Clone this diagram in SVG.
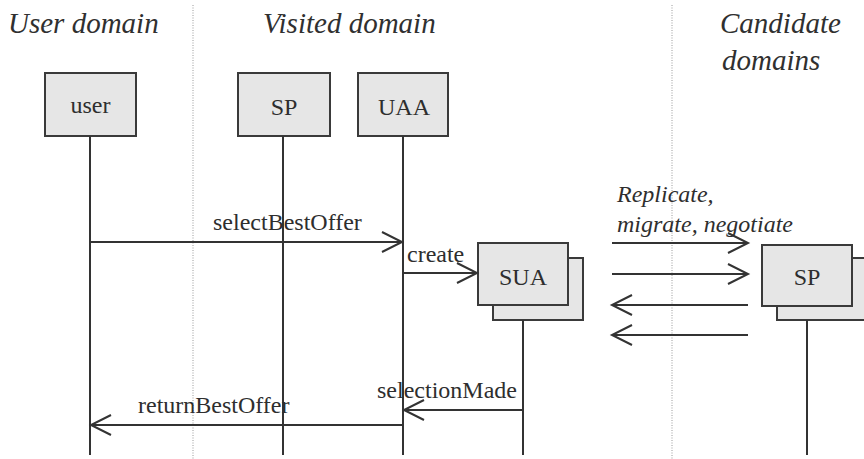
<svg xmlns="http://www.w3.org/2000/svg" width="864" height="459" viewBox="0 0 864 459">
  <style>
    .title { font-family: "Liberation Serif", "Times New Roman", serif; font-style: italic; font-size: 29px; fill: #303030; }
    .lbl { font-family: "Liberation Serif", "Times New Roman", serif; font-size: 24px; fill: #2e2e2e; }
    .ilbl { font-family: "Liberation Serif", "Times New Roman", serif; font-style: italic; font-size: 24px; fill: #2e2e2e; }
    .box { fill: #e6e6e6; stroke: #3a3a3a; stroke-width: 2; }
    .life { stroke: #333333; stroke-width: 2; fill: none; }
    .msg { stroke: #333333; stroke-width: 2; fill: none; marker-end: url(#open); }
    .divider { stroke: #9a9a9a; stroke-width: 1; stroke-dasharray: 1 1.5; }
  </style>
  <defs>
    <marker id="open" markerUnits="userSpaceOnUse" markerWidth="24" markerHeight="24" viewBox="0 0 24 24" refX="21" refY="12" orient="auto">
      <path d="M1,2 L21,12 L1,22" fill="none" stroke="#333333" stroke-width="2"/>
    </marker>
  </defs>

  <rect width="864" height="459" fill="#ffffff"/>

  <!-- domain separators -->
  <line class="divider" x1="193" y1="5" x2="193" y2="459"/>
  <line class="divider" x1="672" y1="5" x2="672" y2="459"/>

  <!-- domain headings -->
  <text class="title" x="8" y="33">User domain</text>
  <text class="title" x="263" y="33">Visited domain</text>
  <text class="title" x="720" y="33">Candidate</text>
  <text class="title" x="722" y="70">domains</text>

  <!-- participants -->
  <g id="user">
    <rect class="box" x="45" y="73" width="91" height="63"/>
    <text class="lbl" x="90.5" y="113" text-anchor="middle">user</text>
    <line class="life" x1="90" y1="136" x2="90" y2="455"/>
  </g>
  <g id="sp-visited">
    <rect class="box" x="238" y="73" width="92" height="63"/>
    <text class="lbl" x="284" y="115" text-anchor="middle">SP</text>
    <line class="life" x1="283" y1="136" x2="283" y2="455"/>
  </g>
  <g id="uaa">
    <rect class="box" x="358" y="73" width="90" height="63"/>
    <text class="lbl" x="404" y="115" text-anchor="middle">UAA</text>
    <line class="life" x1="403" y1="136" x2="403" y2="455"/>
  </g>
  <g id="sua">
    <rect class="box" x="493" y="258" width="90" height="62"/>
    <rect class="box" x="478" y="243" width="90" height="62"/>
    <text class="lbl" x="523" y="285" text-anchor="middle">SUA</text>
    <line class="life" x1="523" y1="320" x2="523" y2="455"/>
  </g>
  <g id="sp-candidate">
    <rect class="box" x="777" y="258" width="92" height="62"/>
    <rect class="box" x="762" y="245" width="90" height="61"/>
    <text class="lbl" x="807" y="285" text-anchor="middle">SP</text>
    <line class="life" x1="807" y1="320" x2="807" y2="455"/>
  </g>

  <!-- messages -->
  <g id="connectors">
    <line class="msg" x1="90" y1="242" x2="402" y2="242"/>
    <line class="msg" x1="403" y1="273" x2="477" y2="273"/>
    <line class="msg" x1="612" y1="243" x2="748" y2="243"/>
    <line class="msg" x1="612" y1="274" x2="748" y2="274"/>
    <line class="msg" x1="748" y1="305" x2="612" y2="305"/>
    <line class="msg" x1="748" y1="335" x2="612" y2="335"/>
    <line class="msg" x1="523" y1="410" x2="404" y2="410"/>
    <line class="msg" x1="403" y1="425" x2="91" y2="425"/>
  </g>

  <!-- message labels -->
  <text class="lbl" x="213" y="230">selectBestOffer</text>
  <text class="lbl" x="407" y="262">create</text>
  <text class="ilbl" x="617" y="202">Replicate,</text>
  <text class="ilbl" x="617" y="232">migrate, negotiate</text>
  <text class="lbl" x="377" y="398">selectionMade</text>
  <text class="lbl" x="138" y="413">returnBestOffer</text>
</svg>
